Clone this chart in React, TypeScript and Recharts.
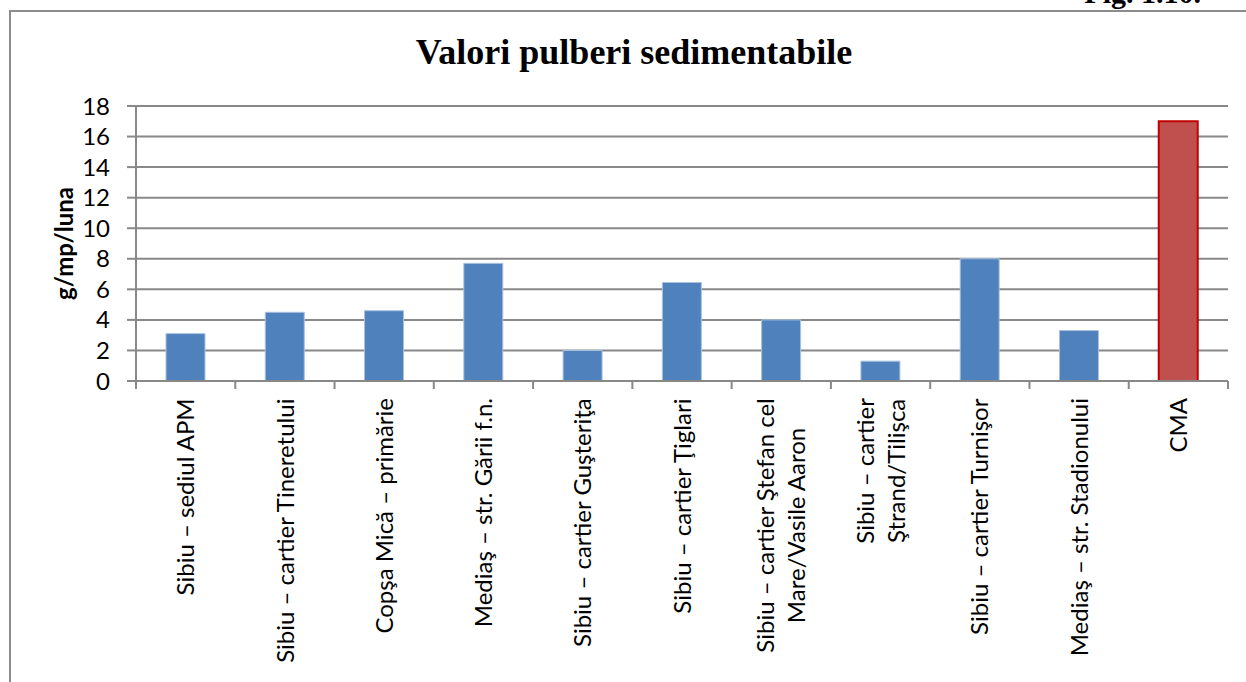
import React from 'react';
import { BarChart, Bar, XAxis, YAxis, CartesianGrid, Cell } from 'recharts';

// stations on the x axis ("\n" splits the two-line labels)
const stations = [
    'Sibiu – sediul APM',
    'Sibiu – cartier Tineretului',
    'Copşa Mică – primărie',
    'Mediaş – str. Gării f.n.',
    'Sibiu – cartier Guşteriţa',
    'Sibiu – cartier Ţiglari',
    'Sibiu – cartier Ştefan cel\nMare/Vasile Aaron',
    'Sibiu – cartier\nŞtrand/Tilişca',
    'Sibiu – cartier Turnişor',
    'Mediaş – str. Stadionului',
    'CMA',
];

// g/mp/luna
const values = [3.1, 4.5, 4.6, 7.7, 2.0, 6.45, 4.0, 1.3, 8.0, 3.3, 17];

const yTicks = [0, 2, 4, 6, 8, 10, 12, 14, 16, 18];

const data = stations.map((name, i) => ({ name, value: values[i] }));

const W = 1246;
const H = 682;
const MARGIN = { top: 106, right: 18, bottom: 11, left: 0 };
const Y_AXIS_W = 136;
const X_AXIS_H = 290;
const PLOT_W = W - MARGIN.left - MARGIN.right - Y_AXIS_W;
const BAND = PLOT_W / stations.length;

const AXIS_FONT = 'Lato, sans-serif';
const AXIS_SIZE = 24;
const GRID = '#888888';

let ctx: CanvasRenderingContext2D | null = null;
const measure = (s: string) => {
    if (!ctx) ctx = document.createElement('canvas').getContext('2d');
    if (!ctx) return s.length * AXIS_SIZE * 0.45;
    ctx.font = `${AXIS_SIZE}px Lato`;
    return ctx.measureText(s).width;
};

const XTick = (props: any) => {
    const { x, y, payload, index } = props;
    const lines = String(payload.value).split('\n');
    const maxW = Math.max(...lines.map(measure));
    const lineH = 31;
    const top = y + 17;
    const last = index === stations.length - 1;
    return (
        <g>
            <line x1={x - BAND / 2} x2={x - BAND / 2} y1={y} y2={y + 8} stroke={GRID} strokeWidth={2} />
            {last && <line x1={x + BAND / 2} x2={x + BAND / 2} y1={y} y2={y + 8} stroke={GRID} strokeWidth={2} />}
            <g transform={`translate(${x}, ${top}) rotate(-90)`}>
                {lines.map((ln, i) => (
                    <text
                        key={i}
                        x={-maxW / 2}
                        y={(i - (lines.length - 1) / 2) * lineH}
                        dy="0.36em"
                        textAnchor="middle"
                        fontFamily={AXIS_FONT}
                        fontSize={AXIS_SIZE}
                        fill="#000"
                    >
                        {ln}
                    </text>
                ))}
            </g>
        </g>
    );
};

const YTitle = (props: any) => {
    const vb = props.viewBox || { y: 106, height: 275 };
    const cy = vb.y + vb.height / 2;
    const cx = 64;
    return (
        <text
            x={cx}
            y={cy}
            transform={`rotate(-90, ${cx}, ${cy})`}
            textAnchor="middle"
            dy="0.36em"
            fontFamily={AXIS_FONT}
            fontSize={AXIS_SIZE}
            fontWeight="bold"
            fill="#000"
        >
            g/mp/luna
        </text>
    );
};

const App: React.FC = () => {
    return (
        <div style={{ position: 'absolute', left: 0, top: 0, width: W, height: H, background: '#fff', overflow: 'hidden' }}>
            <div style={{ position: 'absolute', left: 9, top: 10, right: 0, bottom: 0, borderTop: '2px solid #8c8c8c', borderLeft: '2px solid #8c8c8c' }} />
            <svg width={W} height={H} style={{ position: 'absolute', left: 0, top: 0 }}>
                <text x={1201} y={3} textAnchor="end" fontFamily="'Liberation Serif', serif" fontWeight="bold" fontSize={30} fill="#000">
                    Fig. 1.10.
                </text>
                <text x={634} y={64} textAnchor="middle" fontFamily="'Liberation Serif', serif" fontWeight="bold" fontSize={36} fill="#000">
                    Valori pulberi sedimentabile
                </text>
            </svg>
            <div style={{ position: 'absolute', left: 0, top: 0 }}>
                <BarChart width={W} height={H} data={data} margin={MARGIN} barSize={39}>
                    <CartesianGrid horizontal vertical={false} stroke={GRID} strokeWidth={2} />
                    <XAxis
                        dataKey="name"
                        height={X_AXIS_H}
                        interval={0}
                        tickLine={false}
                        tickSize={0}
                        tickMargin={0}
                        axisLine={{ stroke: GRID, strokeWidth: 2 }}
                        tick={<XTick />}
                    />
                    <YAxis
                        width={Y_AXIS_W}
                        domain={[0, 18]}
                        ticks={yTicks}
                        interval={0}
                        tickSize={9}
                        tickMargin={17}
                        axisLine={{ stroke: GRID, strokeWidth: 2 }}
                        tickLine={{ stroke: GRID, strokeWidth: 2 }}
                        tick={{ fill: '#000', fontSize: AXIS_SIZE, fontFamily: AXIS_FONT }}
                        label={<YTitle />}
                    />
                    <Bar dataKey="value" isAnimationActive={false}>
                        {data.map((d) => (
                            <Cell
                                key={d.name}
                                fill={d.name === 'CMA' ? '#C0504D' : '#4F81BD'}
                                stroke={d.name === 'CMA' ? '#C00000' : '#A9C2E0'}
                                strokeWidth={d.name === 'CMA' ? 2 : 1}
                            />
                        ))}
                    </Bar>
                </BarChart>
            </div>
        </div>
    );
};

export default App;
